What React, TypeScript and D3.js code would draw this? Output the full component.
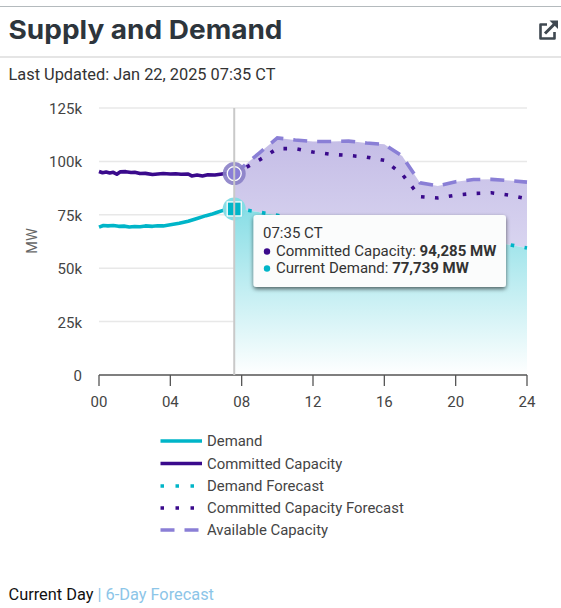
import React from "react";
import * as d3 from "d3";

const title = "Supply and Demand";
const updated = "Last Updated: Jan 22, 2025 07:35 CT";
const yTicks = [0, 25, 50, 75, 100, 125];
const xTicks = [0, 4, 8, 12, 16, 20, 24];

const committedHours = [0, 0.2, 0.4, 0.6, 0.8, 1, 1.2, 1.5, 1.8, 2, 2.3, 2.6, 3, 3.3, 3.6, 4, 4.3, 4.6, 5, 5.2, 5.5, 5.8, 6.1, 6.5, 7, 7.583];
const committedValues = [95.3, 94.7, 95.0, 94.6, 94.9, 94.0, 95.1, 95.2, 94.8, 94.9, 94.3, 94.4, 93.9, 94.1, 94.3, 94.1, 94.2, 94.0, 94.1, 93.2, 93.6, 93.2, 93.7, 93.6, 94.2, 94.285];

const demandHours = [0, 0.25, 0.5, 0.8, 1.1, 1.4, 1.7, 2, 2.3, 2.6, 3, 3.3, 3.6, 4, 4.5, 5, 5.5, 6, 6.3, 6.6, 7, 7.3, 7.583];
const demandValues = [69.2, 70.0, 69.8, 70.0, 69.6, 69.7, 69.3, 69.5, 69.4, 69.8, 69.6, 69.9, 69.8, 70.3, 71.0, 72.0, 73.3, 74.6, 75.2, 76.1, 77.2, 77.9, 77.739];

const forecastHours = [7.583, 8, 9, 10, 11, 12, 13, 14, 15, 16, 17, 18, 19, 20, 21, 22, 23, 24];
const demandForecast = [77.739, 77.6, 76.2, 74.8, 72.5, 70.5, 69, 67.5, 66, 65, 64, 63.5, 64, 64.5, 64, 62.5, 61, 59.5];
const committedForecast = [94.285, 96, 100.7, 106, 106, 104.4, 103.3, 102.8, 102, 100.5, 94, 83.5, 82.9, 84.2, 85, 85.3, 84.2, 82.5];
const availableCapacity = [94.285, 97, 104, 111, 110, 109.3, 109.3, 109.5, 108.6, 108, 102.5, 90, 88.5, 90.5, 91.5, 91.6, 91, 90.3];

const currentHour = 7.583;
const currentCommitted = 94.285;
const currentDemand = 77.739;

const legendItems = [
  { label: "Demand", color: "#00b5c8", dash: "" },
  { label: "Committed Capacity", color: "#3a0a8c", dash: "" },
  { label: "Demand Forecast", color: "#00b5c8", dash: "3.5 11.5" },
  { label: "Committed Capacity Forecast", color: "#3a0a8c", dash: "3.5 11.5" },
  { label: "Available Capacity", color: "#8a7fd6", dash: "14 10" },
];

const teal = "#00b5c8";
const indigo = "#3a0a8c";
const lilac = "#8a7fd6";
const font = "Roboto, sans-serif";
const textColor = "#444";

export default function App() {
  const x = d3.scaleLinear().domain([0, 24]).range([99, 527]);
  const y = d3.scaleLinear().domain([0, 125]).range([375, 108]);

  const line = (hs: number[], vs: number[]) =>
    d3.line<number>().x((h) => x(h)).y((_, i) => y(vs[i]))(hs) as string;

  const upperArea = d3
    .area<number>()
    .x((h) => x(h))
    .y0((_, i) => y(demandForecast[i]))
    .y1((_, i) => y(availableCapacity[i]))(forecastHours) as string;
  const lowerArea = d3
    .area<number>()
    .x((h) => x(h))
    .y0(y(0))
    .y1((_, i) => y(demandForecast[i]))(forecastHours) as string;

  const cx = x(currentHour);
  const legendY = [441, 463.5, 486, 508, 530];

  return (
    <svg
      width={561}
      height={608}
      style={{ position: "absolute", left: 0, top: 0, fontFamily: font }}
    >
      <defs>
        <linearGradient id="up" gradientUnits="userSpaceOnUse" x1="0" y1="135" x2="0" y2="250">
          <stop offset="0" stopColor="#c4bce6" />
          <stop offset="1" stopColor="#d9d5f0" />
        </linearGradient>
        <linearGradient id="low" gradientUnits="userSpaceOnUse" x1="0" y1="205" x2="0" y2="375">
          <stop offset="0" stopColor="#86dde5" />
          <stop offset="1" stopColor="#ffffff" />
        </linearGradient>
        <filter id="sh" x="-10%" y="-20%" width="120%" height="150%">
          <feDropShadow dx="0" dy="2" stdDeviation="2.2" floodColor="#000" floodOpacity="0.6" />
        </filter>
      </defs>

      <line x1={0} x2={561} y1={6.5} y2={6.5} stroke="#b4babd" strokeWidth={1} />
      <line x1={0} x2={561} y1={57} y2={57} stroke="#dcdcdc" strokeWidth={1.5} />
      <text
        x={8.5}
        y={39}
        fontFamily="Inter, sans-serif"
        fontWeight={700}
        fontSize={26}
        fill="#2d353c"
        textLength={274}
        lengthAdjust="spacingAndGlyphs"
      >
        {title}
      </text>
      <g fill="none" stroke="#3f4850" strokeWidth={2.6}>
        <path d="M547 24.5 H540.5 V38.5 H554.5 V32" strokeLinejoin="round" />
        <path d="M545 33.5 L555 23.5" strokeWidth={3} />
      </g>
      <path d="M549.5 20.5 H558 V29 Z" fill="#3f4850" />
      <text x={8.5} y={80} fontSize={16.35} fill="#333">
        {updated}
      </text>

      {yTicks.filter((t) => t > 0).map((t) => (
        <line key={t} x1={99} x2={527} y1={y(t)} y2={y(t)} stroke="#e8e8e8" strokeWidth={1.5} />
      ))}
      {yTicks.map((t) => (
        <text key={t} x={82} y={y(t) + 6} textAnchor="end" fontSize={15} fill={textColor}>
          {t === 0 ? "0" : `${t}k`}
        </text>
      ))}
      <text
        transform="translate(37 241) rotate(-90)"
        textAnchor="middle"
        fontSize={14.5}
        fill="#666"
      >
        MW
      </text>

      <path d={upperArea} fill="url(#up)" />
      <path d={lowerArea} fill="url(#low)" />

      <line x1={99} x2={527} y1={375} y2={375} stroke="#555" strokeWidth={1.3} />
      {xTicks.map((t) => (
        <g key={t}>
          <line x1={x(t)} x2={x(t)} y1={375} y2={386} stroke="#555" strokeWidth={1.3} />
          <text x={x(t)} y={407} textAnchor="middle" fontSize={15} fill={textColor}>
            {String(t).padStart(2, "0")}
          </text>
        </g>
      ))}

      <path d={line(forecastHours, availableCapacity)} fill="none" stroke={lilac} strokeWidth={3.6} strokeDasharray="14 10" />
      <path d={line(forecastHours, committedForecast)} fill="none" stroke={indigo} strokeWidth={3.6} strokeDasharray="3.6 10.4" />
      <path d={line(forecastHours, demandForecast)} fill="none" stroke={teal} strokeWidth={3.6} strokeDasharray="3.6 10.4" />
      <path d={line(committedHours, committedValues)} fill="none" stroke={indigo} strokeWidth={3.6} strokeLinejoin="round" />
      <path d={line(demandHours, demandValues)} fill="none" stroke={teal} strokeWidth={3.6} strokeLinejoin="round" />

      <circle cx={cx} cy={y(currentCommitted)} r={11.5} fill="#8a7fc6" opacity={0.9} />
      <circle cx={cx} cy={y(currentCommitted)} r={7} fill={lilac} stroke="#fff" strokeWidth={1.3} />
      <circle cx={cx} cy={y(currentDemand)} r={11.5} fill="#86dde5" />
      <rect x={cx - 7} y={y(currentDemand) - 7} width={14} height={14} fill={teal} stroke="#fff" strokeWidth={1.3} />
      <line x1={cx} x2={cx} y1={108} y2={375} stroke="#c9c9c9" strokeWidth={2} />

      <rect x={253.5} y={215} width={252.5} height={72} rx={3} fill="#fbfcfc" filter="url(#sh)" />
      <text x={263} y={238} fontSize={15} fill="#333">07:35 CT</text>
      <circle cx={267} cy={251.5} r={3.2} fill={indigo} />
      <text x={276} y={256} fontSize={15} fill="#333">
        Committed Capacity: <tspan fontWeight={700}>94,285 MW</tspan>
      </text>
      <circle cx={267} cy={268.5} r={3.2} fill={teal} />
      <text x={276} y={273} fontSize={15} fill="#333">
        Current Demand: <tspan fontWeight={700}>77,739 MW</tspan>
      </text>

      {legendItems.map((d, i) => (
        <g key={d.label}>
          <line
            x1={160.5}
            x2={202}
            y1={legendY[i]}
            y2={legendY[i]}
            stroke={d.color}
            strokeWidth={3.4}
            strokeDasharray={d.dash || undefined}
          />
          <text x={207} y={legendY[i] + 5} fontSize={14.9} fill={textColor}>
            {d.label}
          </text>
        </g>
      ))}

      <text x={8.5} y={600} fontSize={16.35} fill="#111">
        Current Day
        <tspan fill="#8cc5e8"> | 6-Day Forecast</tspan>
      </text>
    </svg>
  );
}
